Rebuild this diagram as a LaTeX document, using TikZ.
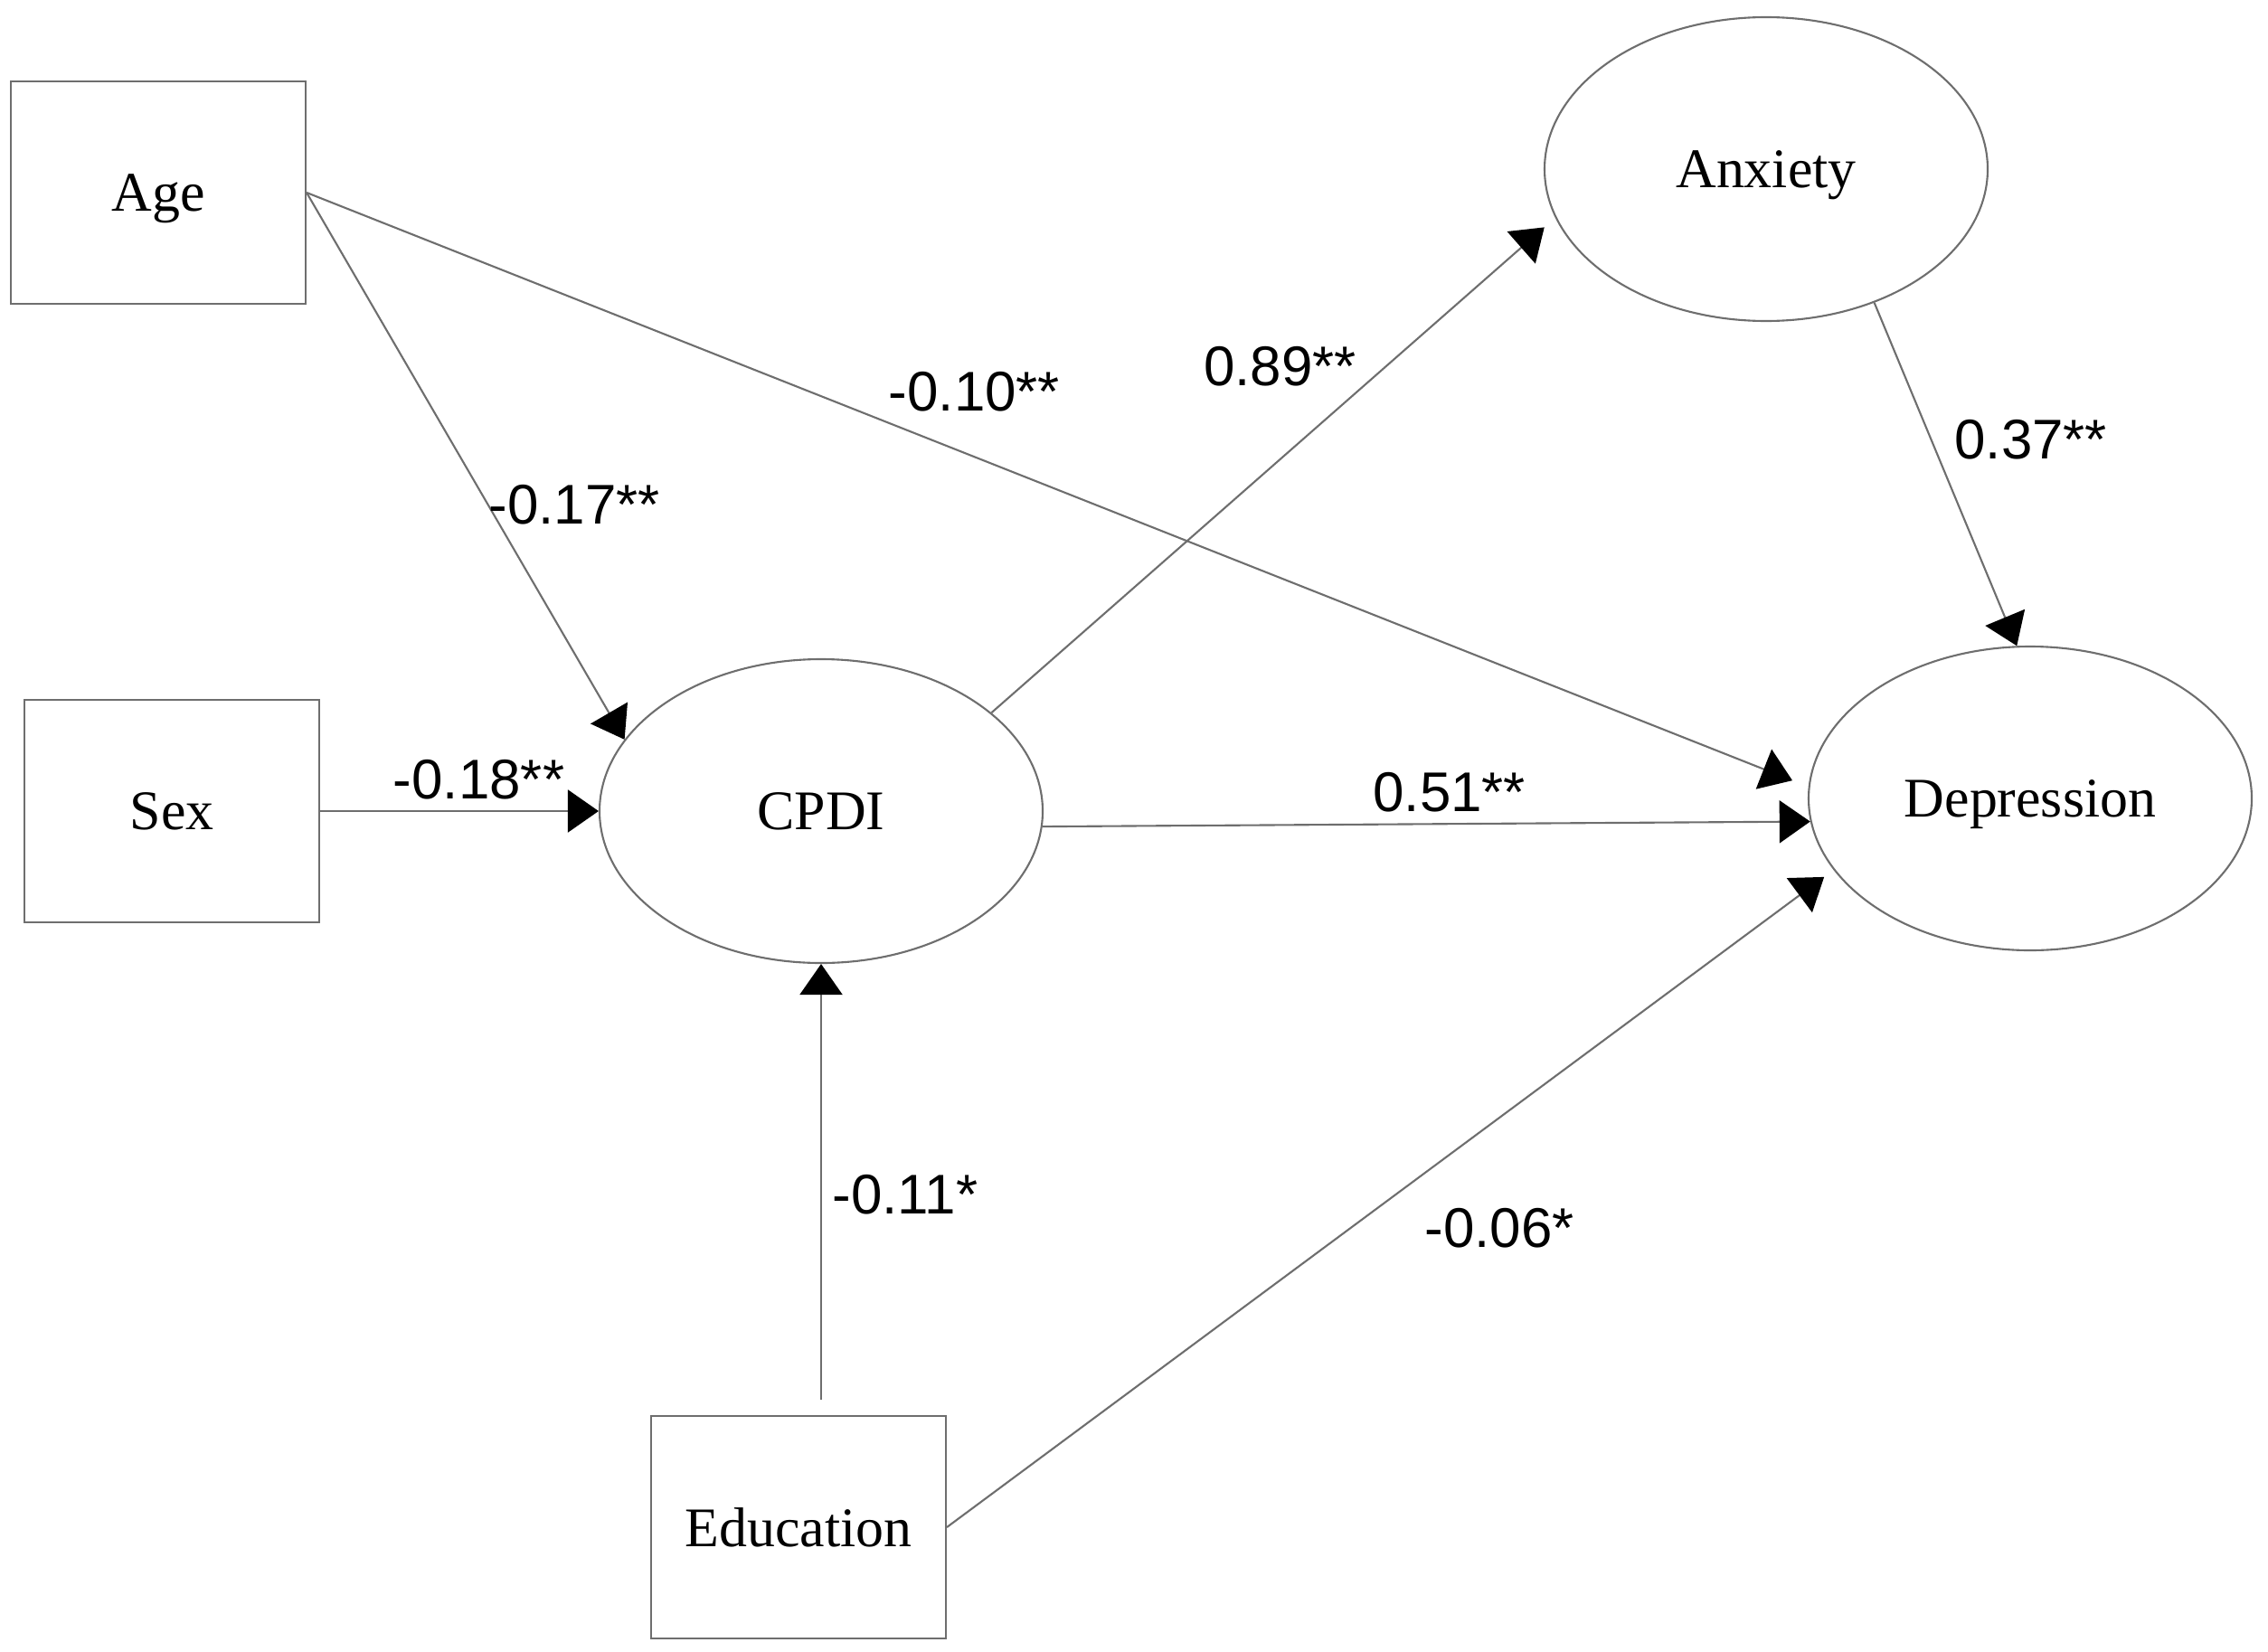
\documentclass[tikz,border=0pt]{standalone}
\usepackage{fontspec}
\setmainfont{Liberation Serif}
\newfontfamily\coeffont{Liberation Sans}
\usetikzlibrary{arrows.meta, positioning, shapes.geometric}
\definecolor{linegray}{RGB}{110,110,110}

\begin{document}
\begin{tikzpicture}[->, >={Triangle[length=0.34cm,width=0.47cm,color=black]}, node distance=7 cm, auto,
    every edge/.style={draw=linegray, line width=0.6pt},
    obs/.style={rectangle, draw=linegray, line width=0.6pt, minimum width=3.26cm, minimum height=2.46cm, inner sep=0pt, text depth=0pt, font=\fontsize{17.6}{21}\selectfont},
    latent/.style={ellipse, draw=linegray, line width=0.6pt, minimum width=4.9cm, minimum height=3.36cm, inner sep=0pt, text depth=0pt, font=\fontsize{17.6}{21}\selectfont},
    coef/.style={font=\coeffont\fontsize{17.6}{21}\selectfont, text=black}]
  \useasboundingbox (0,0) rectangle (25.08,-18.27);
      \node[obs] (AGE) at (1.75,-2.13) {Age};
      \node[obs, below of=AGE, node distance=6.84cm, xshift=0.15cm] (SEX) {Sex};
      \node[latent, right of=SEX, node distance=7.18cm] (CPDI) {CPDI};
      \node[obs, below of=CPDI, node distance=7.92cm, xshift=-0.25cm] (EDU) {Education};
      \node[latent, right of=CPDI, node distance=13.37cm, yshift=0.14cm] (DEP) {Depression};
      \node[latent, above of=DEP, node distance=6.96cm, xshift=-2.92cm] (ANX) {Anxiety};

        \path (AGE.east) edge node[coef, pos=.57, right, inner sep=0pt] {-0.17**} (CPDI.160)
              (AGE.east) edge[shorten >=0.19cm] node[coef, pos=.38, above right, yshift=-0.05cm] {-0.10**} (DEP.177)
              (SEX.east) edge node[coef, pos=.57, above] {-0.18**} (CPDI.west)
              (CPDI.30) edge[shorten >=0.16cm] node[coef, pos=.69, left, xshift=-0.14cm, yshift=0.05cm] {0.89**} (ANX.193)
              (CPDI.-4) edge node[coef, pos=.53, above] {0.51**} (DEP.186)
              (ANX.-51) edge node[coef, pos=.4, right, xshift=0.13cm] {0.37**} (DEP.95)
              ([yshift=0.17cm]EDU.north -| CPDI.south) edge node[coef, pos=.47, right] {-0.11*} (CPDI.south)
              (EDU.east) edge[shorten >=0.13cm] node[coef, pos=.52, below right, xshift=0.06cm, yshift=-0.12cm] {-0.06*} (DEP.200)
              ;
\end{tikzpicture}
\end{document}
